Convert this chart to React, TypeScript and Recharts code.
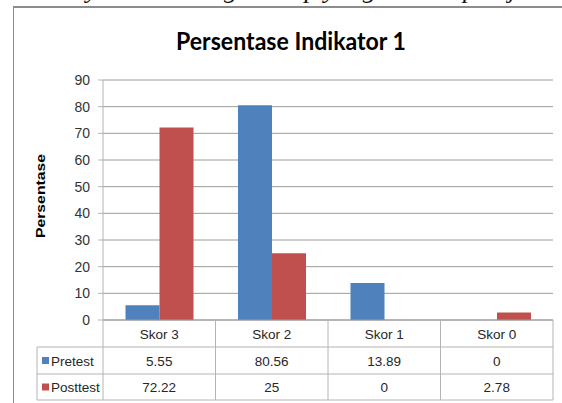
import React from 'react';
import { BarChart, Bar, XAxis, YAxis, CartesianGrid } from 'recharts';

// Chart data
const categories = ['Skor 3', 'Skor 2', 'Skor 1', 'Skor 0'];
const pretest = [5.55, 80.56, 13.89, 0];
const posttest = [72.22, 25, 0, 2.78];
const seriesNames = ['Pretest', 'Posttest'];
const seriesColors = ['#4F81BD', '#C0504D'];
const yTicks = [0, 10, 20, 30, 40, 50, 60, 70, 80, 90];

const chartTitle = 'Persentase Indikator 1';
const yAxisTitle = 'Persentase';
const headerText = 'menyatakan ulang konsep yang telah dipelajari';

const data = categories.map((name, i) => ({ name, pretest: pretest[i], posttest: posttest[i] }));

// Layout
const W = 562;
const H = 403;
const PLOT_LEFT = 103;
const PLOT_RIGHT = 553;
const PLOT_TOP = 80;
const PLOT_BOTTOM = 320;
const COL_W = (PLOT_RIGHT - PLOT_LEFT) / categories.length;
const ROW1 = 347;
const ROW2 = 374;
const ROW3 = 400;
const TABLE_LEFT = 37;
const LINE = '#b4b4b4';
const FONT = '"Liberation Sans", Arial, sans-serif';
const CELL_FONT = 13.5;

// Each x tick renders one column of the data table below the plot
const TableTick = (props: any) => {
  const { x, y, payload } = props;
  const i: number = payload.index;
  const half = COL_W / 2;
  const top = y;
  const left = x - half;
  const right = x + half;
  const values = [pretest[i], posttest[i]];
  const rowMid = [(ROW1 + ROW2) / 2, (ROW2 + ROW3) / 2];
  return (
    <g>
      {/* column borders */}
      <line x1={right} y1={top} x2={right} y2={ROW3} stroke={LINE} />
      {i === 0 && <line x1={left} y1={top} x2={left} y2={ROW3} stroke={LINE} />}
      {[ROW1, ROW2, ROW3].map((ry) => (
        <line key={ry} x1={i === 0 ? TABLE_LEFT : left} y1={ry} x2={right} y2={ry} stroke={LINE} />
      ))}
      {i === 0 && <line x1={TABLE_LEFT} y1={ROW1} x2={TABLE_LEFT} y2={ROW3} stroke={LINE} />}
      {/* category header */}
      <text x={x} y={(top + ROW1) / 2 + 5} textAnchor="middle" fontSize={CELL_FONT} fontFamily={FONT} fill="#262626">
        {payload.value}
      </text>
      {/* values */}
      {values.map((v, r) => (
        <text key={r} x={x} y={rowMid[r] + 5} textAnchor="middle" fontSize={CELL_FONT} fontFamily={FONT} fill="#262626">
          {String(v)}
        </text>
      ))}
      {/* legend keys in the first column */}
      {i === 0 &&
        seriesNames.map((s, r) => (
          <g key={s}>
            <rect x={42} y={rowMid[r] - 3.5} width={7} height={7} fill={seriesColors[r]} />
            <text x={51} y={rowMid[r] + 5} fontSize={CELL_FONT} fontFamily={FONT} fill="#262626">
              {s}
            </text>
          </g>
        ))}
    </g>
  );
};

export default function App() {
  return (
    <div style={{ position: 'absolute', left: 0, top: 0, width: W, height: H, overflow: 'hidden', background: '#fff' }}>
      {/* frame */}
      <div
        style={{
          position: 'absolute',
          left: 13,
          top: 6,
          width: 700,
          height: 600,
          borderLeft: '1px solid #8c8c8c',
          borderTop: '2px solid #8c8c8c',
        }}
      />
      <svg width={W} height={H} style={{ position: 'absolute', left: 0, top: 0 }}>
        <text
          x={42}
          y={-2}
          fontFamily='"Liberation Serif", "Times New Roman", serif'
          fontStyle="italic"
          fontSize={26}
          fill="#111"
          textLength={505}
          lengthAdjust="spacingAndGlyphs"
        >
          {headerText}
        </text>
        <text
          x={291}
          y={50}
          textAnchor="middle"
          fontFamily='Lato, "Open Sans", sans-serif'
          fontWeight="bold"
          fontSize={25}
          fill="#000"
          textLength={230}
          lengthAdjust="spacingAndGlyphs"
        >
          {chartTitle}
        </text>
        <text
          transform="translate(45 196) rotate(-90)"
          textAnchor="middle"
          fontFamily={FONT}
          fontWeight="bold"
          fontSize={13.5}
          fill="#000"
          textLength={84}
          lengthAdjust="spacingAndGlyphs"
        >
          {yAxisTitle}
        </text>
      </svg>
      <div style={{ position: 'absolute', left: 0, top: 0 }}>
        <BarChart
          width={W}
          height={H}
          data={data}
          margin={{ top: PLOT_TOP, right: W - PLOT_RIGHT, bottom: H - PLOT_BOTTOM - 80, left: PLOT_LEFT - 60 }}
          barCategoryGap="20%"
          barGap={0}
        >
          <CartesianGrid vertical={false} stroke="#9c9c9c" />
          <YAxis
            width={60}
            domain={[0, 90]}
            ticks={yTicks}
            interval={0}
            tickSize={5}
            tickMargin={8}
            stroke="#b4b4b4"
            tick={{ fill: '#333', fontSize: 14, fontFamily: FONT }}
          />
          <XAxis
            dataKey="name"
            height={80}
            interval={0}
            tickLine={false}
            tickSize={0}
            tickMargin={0}
            stroke="#9c9c9c"
            tick={(p: any) => <TableTick {...p} />}
          />
          <Bar dataKey="pretest" name={seriesNames[0]} fill={seriesColors[0]} isAnimationActive={false} />
          <Bar dataKey="posttest" name={seriesNames[1]} fill={seriesColors[1]} isAnimationActive={false} />
        </BarChart>
      </div>
    </div>
  );
}
